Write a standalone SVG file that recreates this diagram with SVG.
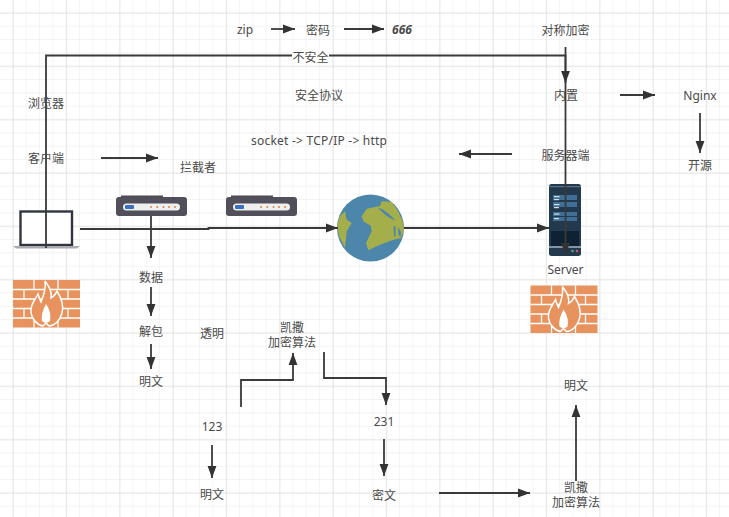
<svg xmlns="http://www.w3.org/2000/svg" xmlns:xlink="http://www.w3.org/1999/xlink" width="729" height="517" viewBox="0 0 729 517">
<style>
.t{font-family:"Noto Sans","Noto Sans CJK SC",sans-serif;font-size:12px;fill:#4a4a4a;text-anchor:middle}
.c{fill:none;stroke:#3a3a3a;stroke-width:1.800;marker-end:url(#a)}
</style>
<defs>
<marker id="a" markerUnits="userSpaceOnUse" markerWidth="13" markerHeight="10" refX="12" refY="5" orient="auto"><path d="M0 .6L12 5L0 9.400Z" fill="#333"/></marker>
<pattern id="g" width="13.333" height="13.333" patternUnits="userSpaceOnUse" x="0" y="0"><path d="M13.200 0V13.333M0 13.200H13.333" fill="none" stroke="#efefef" stroke-width="1"/></pattern>
<pattern id="G" width="53.333" height="53.333" patternUnits="userSpaceOnUse" x="0" y="0"><path d="M13.200 0V53.333M0 13.200H53.333" fill="none" stroke="#e6e6e6" stroke-width="1"/></pattern>
<g id="wall">
<rect width="67" height="47.500" fill="#e8935e"/>
<path d="M0 9.500H67M0 19H67M0 28.500H67M0 38H67M21 0V9.500M45 0V9.500M11 9.500V19M33 9.500V19M55 9.500V19M21 19V28.500M45 19V28.500M11 28.500V38M33 28.500V38M55 28.500V38M21 38V47.500M45 38V47.500" stroke="#fff" stroke-width="1.300" fill="none"/>
<path d="M32 1C37 8 39 12 38 18C41 16 43 14 44 11C49 19 51 26 49 33C47 41 41 46 36 46L33 43L30 46C24 45 19 39 18 33C17 26 21 21 25 14C26 18 27 20 28 22C31 15 33 9 32 1Z" fill="#e8935e" stroke="#fff" stroke-width="1.500"/>
<path d="M33 24C37 30 38 35 37 41L33 43.500L29 41C28 35 30 30 33 24Z" fill="#fff"/>
</g>
<g id="router">
<path d="M5 0.500H47V3H5Z" fill="#4c4a54"/>
<rect y="2" width="71" height="19" rx="3" fill="#514f59"/>
<rect x="7" y="8.500" width="57" height="7" rx="3.500" fill="#eef0ee"/>
<rect x="9" y="10" width="9" height="4" rx="1" fill="#3b6fc4"/>
<g fill="#dc8245"><circle cx="35" cy="12" r="1"/><circle cx="41.300" cy="12" r="1"/><circle cx="47.500" cy="12" r="1"/><circle cx="53" cy="12" r="1"/><circle cx="59" cy="12" r="1"/></g>
</g>
<clipPath id="gc"><circle cx="370.500" cy="228" r="33.500"/></clipPath>
</defs>
<rect width="729" height="517" fill="#fff"/>
<rect width="729" height="517" fill="url(#g)"/>
<rect width="729" height="517" fill="url(#G)"/>

<g id="laptop">
<rect x="20.500" y="211.500" width="51.500" height="33.500" fill="#fff" stroke="#30353f" stroke-width="2.400"/>
<path d="M13 246H80L77 248.500H16Z" fill="#a9abae"/>
</g>
<use id="router1" xlink:href="#router" href="#router" x="116" y="195"/>
<use id="router2" xlink:href="#router" href="#router" x="226" y="195"/>
<g id="globe">
<circle cx="370.500" cy="228" r="33.500" fill="#4c86ab"/>
<g clip-path="url(#gc)">
<path d="M361.700 216.300L366.700 208.700L380 206L381.700 201.300L391.700 202L398 211L402.700 221L404 229.700L401 238L393.300 239.700L380 244.700L368.300 250.300L366 243L371.700 231.300L370.700 225.700L363.300 221.300Z" fill="#a4ae4b"/>
<path d="M378 207.500C383 209 390 214 395.500 220.500C389 218 382 213 378 207.500ZM393.500 226L395.500 226.500L395.500 236.500L394 236ZM398 227L401 232L400.500 237L398.500 235Z" fill="#4c86ab"/>
<path d="M345 211.300L340 216L337 224.700L339 236L345 248L346.700 231.300L351.700 223L346.700 219.700Z" fill="#a4ae4b"/>
</g>
</g>
<g id="server">
<rect x="549" y="184" width="32" height="72" rx="2.500" fill="#233a4e"/>
<rect x="549" y="186" width="32" height="1.200" fill="#5d7286"/>
<rect x="553" y="195" width="24" height="5" fill="#3f6f97"/><rect x="553" y="202" width="24" height="5" fill="#3f6f97"/>
<rect x="553" y="212" width="24" height="4" fill="#3f6f97"/><rect x="553" y="217" width="24" height="4" fill="#3f6f97"/>
<g fill="#cfe0ea"><rect x="554" y="196" width="5.500" height="1.200"/><rect x="554" y="199" width="5" height="1.200"/><rect x="554" y="204" width="5.500" height="1.200"/><rect x="554" y="207" width="5" height="1.200"/><rect x="554" y="213.500" width="5.500" height="1.200"/><rect x="554" y="218" width="5" height="1.200"/></g>
<rect x="551" y="231" width="28" height="15" fill="#0f2233"/>
<rect x="549" y="246" width="32" height="2" fill="#8195a6"/>
<circle cx="572.500" cy="251" r="1.300" fill="#4fa67a"/><circle cx="577" cy="251" r="1.300" fill="#c85a6a"/>
</g>
<use id="firewall1" xlink:href="#wall" href="#wall" x="13" y="280"/>
<use id="firewall2" xlink:href="#wall" href="#wall" x="530.500" y="285.500"/>

<g id="connectors">
<path class="c" d="M46 248V55.500H565.500V255"/>
<path class="c" d="M565.500 47V83"/>
<path class="c" d="M271 29H295"/>
<path class="c" d="M344 29H384"/>
<path class="c" d="M101 158H158"/>
<path class="c" d="M512 154H459"/>
<path class="c" d="M620 95H655"/>
<path class="c" d="M700 113V153"/>
<path class="c" d="M80 229H208.500V228H338"/>
<path class="c" d="M404 228H549"/>
<path class="c" d="M151 216V258"/>
<path class="c" d="M151 287V316"/>
<path class="c" d="M151 344V369"/>
<path class="c" d="M241 407V380H293V353"/>
<path class="c" d="M324 352V378H386V405"/>
<path class="c" d="M384 439V476"/>
<path class="c" d="M212 445V478"/>
<path class="c" d="M439 493H530"/>
<path class="c" d="M576 481V405"/>
</g>

<g id="labels">
<text class="t" x="245" y="34">zip</text>
<text class="t" x="318" y="34.500">密码</text>
<text class="t" x="402" y="34" style="font-weight:700;font-style:italic">666</text>
<text class="t" x="565.500" y="34.500">对称加密</text>
<rect x="292" y="50" width="37" height="13" fill="#fff"/>
<text class="t" x="310.500" y="61.500">不安全</text>
<text class="t" x="319" y="100">安全协议</text>
<text class="t" x="46" y="108">浏览器</text>
<text class="t" x="46" y="163">客户端</text>
<text class="t" x="198" y="171.500">拦截者</text>
<text class="t" x="319" y="145" textLength="136">socket -&gt; TCP/IP -&gt; http</text>
<text class="t" x="565.500" y="159.500">服务器端</text>
<text class="t" x="566" y="99.500">内置</text>
<text class="t" x="700" y="100">Nginx</text>
<text class="t" x="700" y="169.500">开源</text>
<text class="t" x="565.500" y="274">Server</text>
<text class="t" x="151" y="282">数据</text>
<text class="t" x="151" y="335.500">解包</text>
<text class="t" x="151" y="386">明文</text>
<text class="t" x="212" y="338">透明</text>
<text class="t" x="292" y="331.500">凯撒<tspan x="292" dy="15">加密算法</tspan></text>
<text class="t" x="212" y="431">123</text>
<text class="t" x="384" y="426">231</text>
<text class="t" x="212" y="499">明文</text>
<text class="t" x="384" y="499.500">密文</text>
<text class="t" x="576" y="491.500">凯撒<tspan x="576" dy="15">加密算法</tspan></text>
<text class="t" x="576" y="390">明文</text>
</g>
</svg>
